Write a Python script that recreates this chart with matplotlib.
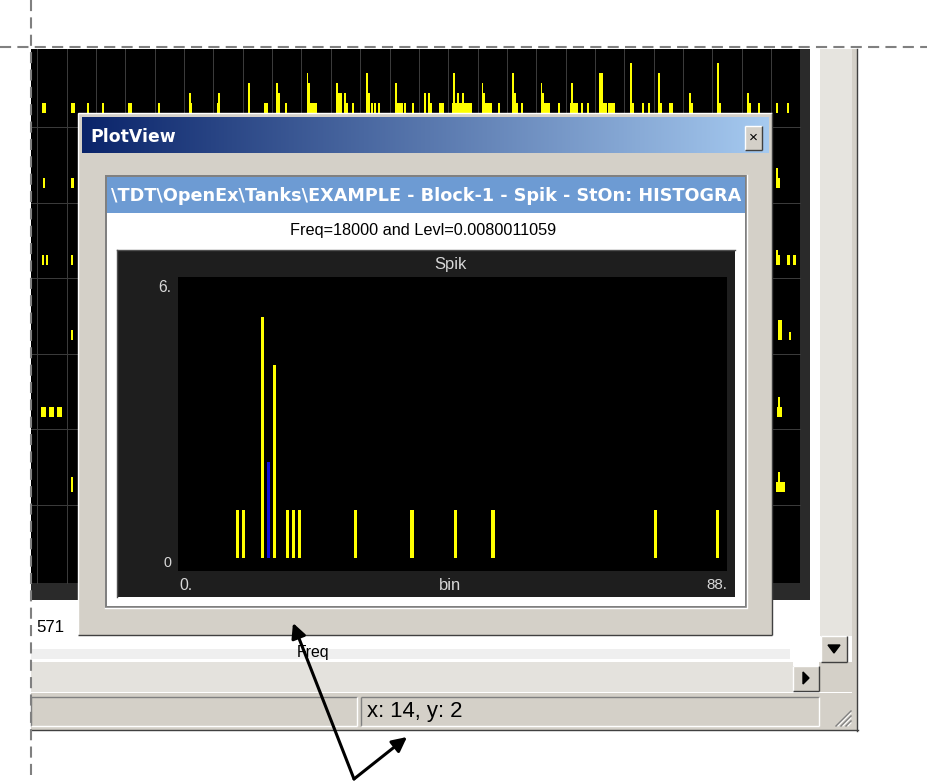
import numpy as np
import matplotlib.pyplot as plt
from matplotlib.patches import Rectangle
from matplotlib.colors import LinearSegmentedColormap

plt.rcParams['lines.scale_dashes'] = False
plt.rcParams['font.family'] = ['Liberation Sans', 'DejaVu Sans']

W, H = 927, 781

# histogram in the PlotView dialog
n_bins = 88
bins = [9, 10, 13, 15, 17, 18, 19, 28, 37, 44, 50, 76, 86]
counts = [1, 1, 5, 4, 1, 1, 1, 1, 1, 1, 1, 1, 1]
cursor_bin = 14
cursor_count = 2

# texts
window_title = "PlotView"
path_title = "\\TDT\\OpenEx\\Tanks\\EXAMPLE - Block-1 - Spik - StOn: HISTOGRA"
subtitle = "Freq=18000 and Levl=0.0080011059"
panel_title = "Spik"
x_label = "bin"
x_ticks = ["0.", "88."]
y_ticks = ["0", "6."]
main_tick = "571"
main_xlabel = "Freq"
status_text = "x: 14, y: 2"

# spikes of the background grid (top row, partly hidden behind the dialog)
top_x = [44, 72.7, 88, 103, 130, 159, 190, 191.5, 218, 219, 249, 265.7, 277, 279, 286,
         307.5, 309, 313.5, 337, 340, 345, 347, 353, 367, 369, 372, 375, 379,
         396, 400, 405, 413, 425, 429, 431, 441.5, 454, 458, 462, 463,
         482.7, 484, 487.5, 499, 513, 515, 517, 522, 541.7, 543, 545.5, 559,
         572, 574, 582, 588, 601.5, 603, 611.5, 631, 633, 643, 649, 659, 661,
         671.5, 690, 692, 718, 720, 748, 750, 759, 777, 788]
top_h = [1, 1, 1, 1, 1, 1, 2, 1, 1, 2, 3, 1, 3, 2, 1,
         4, 3, 1, 3, 2, 2, 1, 1, 4, 2, 1, 1, 1,
         3, 1, 1, 1, 2, 2, 1, 1, 4, 2, 1, 2,
         3, 2, 1, 1, 4, 2, 1, 1, 3, 2, 1, 1,
         3, 1, 1, 1, 4, 1, 1, 5, 1, 1, 1, 4, 1,
         1, 2, 1, 5, 1, 2, 1, 1, 1, 1]
top_w = [4, 4, 1.5, 1.5, 4, 1.5, 1.5, 2, 2, 1.5, 1.5, 4, 1.5, 1.5, 1.5,
         1.5, 1.5, 8, 1.5, 4, 1.5, 1.5, 1.5, 1.5, 1.5, 1.5, 1.5, 1.5,
         1.5, 6, 1.5, 1.5, 1.5, 1.5, 1.5, 5, 1.5, 1.5, 20, 1.5,
         1.5, 2, 9, 1.5, 1.5, 1.5, 1.5, 1.5, 1.5, 1.5, 9, 1.5,
         1.5, 8, 1.5, 1.5, 4, 8, 7, 1.5, 1.5, 1.5, 1.5, 1.5, 1.5,
         4, 1.5, 1.5, 1.5, 1.5, 1.5, 1.5, 1.5, 1.5, 1.5]

# spikes of the background grid visible left and right of the dialog
side_x = [44, 72.7, 43, 47, 72, 72, 44, 52, 60, 72,
          777, 779, 777, 779, 788.5, 795, 780, 790, 779, 779.5, 779, 780.5]
side_row = [1, 1, 2, 2, 2, 3, 4, 4, 4, 5,
            1, 1, 2, 2, 2, 2, 3, 3, 4, 4, 5, 5]
side_h = [1, 1, 1, 1, 1, 1, 1, 1, 1, 1.5,
          2, 1, 1.5, 1, 1, 1, 2, 0.8, 2, 1, 2, 1]
side_w = [2.5, 2.5, 2, 2, 2, 2, 5, 5, 5, 2,
          2, 1.5, 1.5, 1.5, 3, 3, 4, 1.5, 1.5, 5, 1.5, 9]
row_base = [113, 188, 265, 340, 417, 492, 568]

fig = plt.figure(figsize=(W / 100, H / 100), dpi=100)
ui = fig.add_axes([0, 0, 1, 1])
ui.axis('off')
renderer = fig.canvas.get_renderer()

GRAY = '#d4d0c8'
px = 0.72


def box(x0, y0, x1, y1, fc, z=1):
    ui.add_patch(Rectangle((x0, y0), x1 - x0, y1 - y0, fc=fc, ec='none', zorder=z))


def bevel(x0, y0, x1, y1, tl, br, z):
    ui.plot([x0, x1], [y0, y0], color=tl, lw=1.4 * px, zorder=z, solid_capstyle='butt')
    ui.plot([x0, x0], [y0, y1], color=tl, lw=1.4 * px, zorder=z, solid_capstyle='butt')
    ui.plot([x0, x1], [y1, y1], color=br, lw=1.4 * px, zorder=z, solid_capstyle='butt')
    ui.plot([x1, x1], [y0, y1], color=br, lw=1.4 * px, zorder=z, solid_capstyle='butt')


def put(s, x, y, width, ha='left', va='center', z=20, **kw):
    t = ui.text(x, y, s, ha=ha, va=va, fontsize=10, zorder=z, **kw)
    w = t.get_window_extent(renderer).width
    t.set_fontsize(10 * width / w)
    return t


# main window background grid
box(31, 49, 810, 600, '#2a2a2a', 1)
box(31, 49, 800, 583, '#000000', 1.5)
for k in range(26):
    ui.plot([37.3 + k * 29.35] * 2, [49, 583], color='#3a3a3a', lw=px, zorder=1.7)
for yy in [127, 202.5, 278, 353.5, 429, 504.5]:
    ui.plot([31, 800], [yy, yy], color='#3a3a3a', lw=px, zorder=1.7)

ui.bar(top_x, -10 * np.array(top_h), width=top_w, bottom=row_base[0],
       color='#ffff00', zorder=2)
ui.bar(side_x, -10 * np.array(side_h), width=side_w,
       bottom=[row_base[r] for r in side_row], color='#ffff00', zorder=2)

# area below grid, scrollbars, status bar
box(31, 649, 790, 659, '#efefef', 1)
box(820, 49, 852, 636, '#e6e4df', 1)
box(31, 662, 793, 692, '#e4e2dd', 1)
box(819, 662, 852, 692, GRAY, 1)
box(821, 636, 847, 662, GRAY, 2)
bevel(821, 636, 847, 662, 'white', '#404040', 2.1)
ui.fill([828, 840, 834], [645, 645, 653], color='black', zorder=2.2)
box(793, 666, 819, 691, GRAY, 2)
bevel(793, 666, 819, 691, 'white', '#404040', 2.1)
ui.fill([803, 803, 809], [672, 684, 678], color='black', zorder=2.2)
box(852, 49, 858, 731, GRAY, 1)
ui.plot([857, 857], [49, 731], color='#404040', lw=1.4 * px, zorder=1.1)
box(31, 693, 858, 730, GRAY, 1)
ui.plot([31, 858], [730, 730], color='#404040', lw=1.4 * px, zorder=1.1)
bevel(31, 697, 357, 726, '#808080', 'white', 1.2)
bevel(361, 697, 819, 726, '#808080', 'white', 1.2)
for d in (5, 10, 15):
    ui.plot([851 - d, 851], [726, 726 - d], color='#808080', lw=1.4 * px, zorder=1.2)
    ui.plot([853 - d, 851], [726, 728 - d], color='white', lw=1.0 * px, zorder=1.2)

put(main_tick, 36, 628, 28, color='black', z=3)
put(main_xlabel, 297, 653, 33, color='black', z=3)
put(status_text, 367, 712, 96, color='black', z=3)

# PlotView dialog
box(78, 113, 772, 635, GRAY, 5)
bevel(78, 113, 772, 635, 'white', '#404040', 5.1)
grad = LinearSegmentedColormap.from_list('title', ['#0a246a', '#a6caf0'])
ui.imshow(np.linspace(0, 1, 256)[None, :], cmap=grad, extent=(82, 769, 153, 117),
          aspect='auto', zorder=6)
put(window_title, 90, 137, 85, color='white', fontweight='bold', family='DejaVu Sans', z=7)
box(745, 126, 762, 150, GRAY, 7)
bevel(745, 126, 762, 150, 'white', '#404040', 7.1)
put("\u00d7", 753.5, 138, 9, ha='center', color='black', z=7.2)

box(105, 175, 747, 608, '#808080', 8)
box(107, 177, 745, 606, 'white', 8.1)
ui.plot([105, 747, 747], [608, 608, 175], color='white', lw=1.4 * px, zorder=8.2)
box(107, 177, 745, 213, '#6d9bd3', 8.2)
put(path_title, 111, 196, 631, color='white', fontweight='bold', family='DejaVu Sans', z=8.3)
put(subtitle, 423, 231, 266, ha='center', color='black', z=8.3)

box(117, 250, 735, 597, '#1e1e1e', 9)
ui.plot([117, 735], [250, 250], color='#505050', lw=1.4 * px, zorder=9.1)
ui.plot([117, 117], [250, 597], color='#505050', lw=1.4 * px, zorder=9.1)
put(panel_title, 450, 264, 32, ha='center', color='#d8d8d8', z=9.2)
put(x_label, 450, 585, 22, ha='center', color='#d8d8d8', z=9.2)
put(x_ticks[0], 179, 585, 13, color='#d8d8d8', z=9.2)
put(x_ticks[1], 727, 585, 21, ha='right', color='#d8d8d8', z=9.2)
put(y_ticks[1], 171, 288, 13, ha='right', color='#d8d8d8', z=9.2)
put(y_ticks[0], 171, 563, 8, ha='right', color='#d8d8d8', z=9.2)

# dashed guide lines and callout arrows
ui.plot([0, W], [47, 47], color='#808080', lw=1.5, dashes=(8, 4.5), zorder=30)
ui.plot([31, 31], [0, H], color='#808080', lw=1.5, dashes=(8, 4.5), zorder=30)
for tip in [(293, 623), (407, 737)]:
    ui.annotate('', xy=tip, xytext=(354, 779),
                arrowprops=dict(arrowstyle='-|>', color='black', lw=2.2,
                                mutation_scale=22, shrinkA=0, shrinkB=0),
                zorder=31)

ui.set_xlim(0, W)
ui.set_ylim(H, 0)

# histogram plot
ax = fig.add_axes([178 / W, 1 - 571 / H, (727 - 178) / W, (571 - 277) / H])
ax.set_facecolor('black')
ax.bar(np.array(bins) + 0.5, counts, width=0.5, color='#ffff00')
ax.bar(cursor_bin + 0.5, cursor_count, width=0.5, color='#1010e0')
ax.set_xlim(0, n_bins)
ax.set_ylim(-0.263, 5.82)
ax.set_xticks([])
ax.set_yticks([])
for s in ax.spines.values():
    s.set_visible(False)

fig.savefig('out.png', dpi=100, facecolor='white')
